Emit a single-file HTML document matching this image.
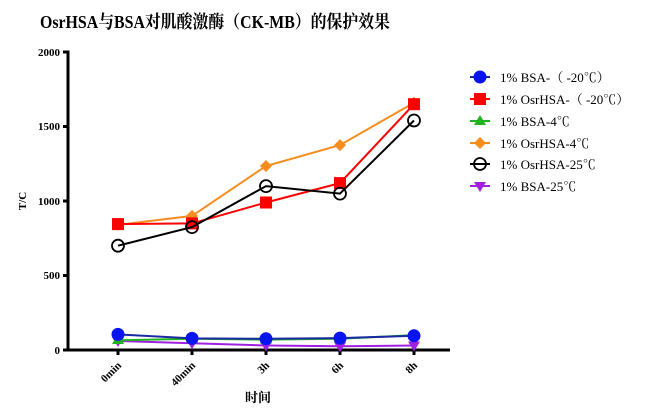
<!DOCTYPE html>
<html><head><meta charset="utf-8"><style>
body{margin:0;background:#fff;width:650px;height:417px;overflow:hidden}
svg{display:block}
text{font-family:"Liberation Serif","Noto Serif CJK SC",serif}
</style></head><body>
<svg width="650" height="417" viewBox="0 0 650 417">
<text x="40" y="28" font-size="18" font-weight="bold" textLength="350" lengthAdjust="spacingAndGlyphs">OsrHSA与BSA对肌酸激酶（CK-MB）的保护效果</text>
<g stroke="#000" stroke-width="3" fill="none">
<path d="M63,52 H68 V350 H450"/>
<path d="M63,126.5 H68 M63,201 H68 M63,275.5 H68 M63,350 H68"/>
<path d="M118,350 V355 M192,350 V355 M266,350 V355 M340,350 V355 M414,350 V355"/>
</g>
<g font-size="11" font-weight="bold" text-anchor="end">
<text x="60" y="56">2000</text><text x="60" y="130">1500</text><text x="60" y="205">1000</text><text x="60" y="279">500</text><text x="60" y="354">0</text>
</g>
<g font-size="11" font-weight="bold" text-anchor="end">
<text transform="translate(122,366) rotate(-45)">0min</text>
<text transform="translate(196,366) rotate(-45)">40min</text>
<text transform="translate(270,366) rotate(-45)">3h</text>
<text transform="translate(344,366) rotate(-45)">6h</text>
<text transform="translate(418,366) rotate(-45)">8h</text>
</g>
<text x="258" y="402" font-size="13" font-weight="bold" text-anchor="middle">时间</text>
<text transform="translate(26,201) rotate(-90)" font-size="11" font-weight="bold" text-anchor="middle">T/C</text>
<polyline points="118,224.8 192,215.9 266,166 340,145.1 414,102.7" fill="none" stroke="#f78c1e" stroke-width="2"/>
<g fill="#f78c1e"><path d="M118,218.8l6,6-6,6-6-6z"/><path d="M192,209.9l6,6-6,6-6-6z"/><path d="M266,160l6,6-6,6-6-6z"/><path d="M340,139.1l6,6-6,6-6-6z"/><path d="M414,96.7l6,6-6,6-6-6z"/></g>
<polyline points="118,224.1 192,223.4 266,202.5 340,183.1 414,104.2" fill="none" stroke="#f00" stroke-width="2"/>
<g fill="#f00"><rect x="112" y="218.1" width="12" height="12"/><rect x="186" y="217.4" width="12" height="12"/><rect x="260" y="196.5" width="12" height="12"/><rect x="334" y="177.1" width="12" height="12"/><rect x="408" y="98.2" width="12" height="12"/></g>
<polyline points="118,245.7 192,227.1 266,186.1 340,193.6 414,120.5" fill="none" stroke="#000" stroke-width="2"/>
<g fill="none" stroke="#000" stroke-width="1.8"><circle cx="118" cy="245.7" r="6"/><circle cx="192" cy="227.1" r="6"/><circle cx="266" cy="186.1" r="6"/><circle cx="340" cy="193.6" r="6"/><circle cx="414" cy="120.5" r="6"/></g>
<polyline points="118,341 192,343.3 266,345.5 340,346.3 414,345.5" fill="none" stroke="#a020e0" stroke-width="2"/>
<g fill="#a020e0"><path d="M112,337h12l-6,10z"/><path d="M186,339.3h12l-6,10z"/><path d="M260,341.5h12l-6,10z"/><path d="M334,342.3h12l-6,10z"/><path d="M408,341.5h12l-6,10z"/></g>
<polyline points="118,340.3 192,338.8 266,339.6 340,338.8 414,335.1" fill="none" stroke="#1fb31f" stroke-width="2"/>
<g fill="#1fb31f"><path d="M118,334l6,10h-12z"/><path d="M192,332.8l6,10h-12z"/><path d="M266,333.6l6,10h-12z"/><path d="M340,332.8l6,10h-12z"/><path d="M414,329.1l6,10h-12z"/></g>
<polyline points="118,334.4 192,338.4 266,338.8 340,338.1 414,335.8" fill="none" stroke="#1a2aa0" stroke-width="2"/>
<g fill="#0a14f0"><circle cx="118" cy="334.4" r="6.5"/><circle cx="192" cy="338.4" r="6.5"/><circle cx="266" cy="338.8" r="6.5"/><circle cx="340" cy="338.1" r="6.5"/><circle cx="414" cy="335.8" r="6.5"/></g>
<g stroke-width="2">
<line x1="470" y1="77" x2="490" y2="77" stroke="#1a2aa0"/><circle cx="480" cy="77" r="6.5" fill="#0a14f0"/>
<line x1="470" y1="99" x2="490" y2="99" stroke="#f00"/><rect x="474" y="93" width="12" height="12" fill="#f00"/>
<line x1="470" y1="121" x2="490" y2="121" stroke="#1fb31f"/><path d="M480,115l6,10h-12z" fill="#1fb31f"/>
<line x1="470" y1="143" x2="490" y2="143" stroke="#f78c1e"/><path d="M480,137l6,6-6,6-6-6z" fill="#f78c1e"/>
<line x1="470" y1="164" x2="490" y2="164" stroke="#000"/><circle cx="480" cy="164" r="6" fill="none" stroke="#000" stroke-width="1.8"/>
<line x1="470" y1="186" x2="490" y2="186" stroke="#a020e0"/><path d="M474,182h12l-6,10z" fill="#a020e0"/>
</g>
<g font-size="13">
<text x="500" y="82">1% BSA-（ -20℃）</text>
<text x="500" y="104">1% OsrHSA-（ -20℃）</text>
<text x="500" y="126">1% BSA-4℃</text>
<text x="500" y="148">1% OsrHSA-4℃</text>
<text x="500" y="169">1% OsrHSA-25℃</text>
<text x="500" y="191">1% BSA-25℃</text>
</g>
</svg>
</body></html>
